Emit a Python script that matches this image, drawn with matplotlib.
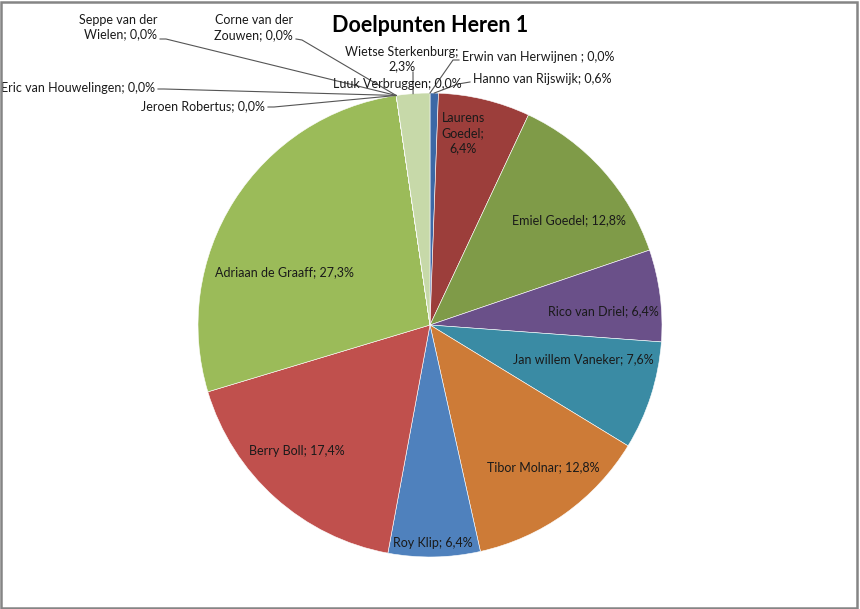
import numpy as np
import matplotlib.pyplot as plt
from matplotlib.patches import Rectangle

# data in clockwise order from 12 o'clock (goals per player)
players = ["Erwin van Herwijnen ", "Hanno van Rijswijk", "Laurens Goedel", "Emiel Goedel",
           "Rico van Driel", "Jan willem Vaneker", "Tibor Molnar", "Roy Klip", "Berry Boll",
           "Adriaan de Graaff", "Jeroen Robertus", "Eric van Houwelingen",
           "Seppe van der Wielen", "Corne van der Zouwen", "Luuk Verbruggen",
           "Wietse Sterkenburg"]
goals = [0, 1, 11, 22, 11, 13, 22, 11, 30, 47, 0, 0, 0, 0, 0, 4]
colors = ["#4A7EBB", "#3C68A6", "#9C3E3B", "#7F9B48", "#6A5089", "#3A8BA4", "#CD7B37",
          "#4F81BD", "#C0504D", "#9BBB59", "#C0504D", "#4F81BD", "#8064A2", "#4BACC6",
          "#F79646", "#C7D9A9"]

title = "Doelpunten Heren 1"

# pie geometry in image pixels (from top-left)
W, H = 860, 609
CX, CY, R = 430, 325, 232

# label layout: text pos (px), ha, line breaks at n-th space, leader line start / elbow
inside = {
    "Laurens Goedel": (463, 133, [1, 2]),
    "Emiel Goedel": (569, 220, []),
    "Rico van Driel": (603, 311, []),
    "Jan willem Vaneker": (583, 359, []),
    "Tibor Molnar": (543, 467, []),
    "Roy Klip": (433, 543, []),
    "Berry Boll": (297, 451, []),
    "Adriaan de Graaff": (284, 272, []),
}
outside = {
    "Seppe van der Wielen": (157, 27, "right", [3], [(160, 39), (166, 39)]),
    "Corne van der Zouwen": (293, 28, "right", [3], [(296, 39), (302, 40)]),
    "Eric van Houwelingen": (155, 88, "right", [], [(158, 89), (164, 89)]),
    "Jeroen Robertus": (265, 106, "right", [], [(268, 107), (274, 107)]),
    "Luuk Verbruggen": (333, 84, "left", [], []),
    "Wietse Sterkenburg": (402, 59, "center", [2], [(413, 72)]),
    "Erwin van Herwijnen ": (462, 57, "left", [], [(459, 60), (453, 60)]),
    "Hanno van Rijswijk": (473, 79, "left", [], [(470, 82), (458, 84)]),
}

plt.rcParams['font.family'] = ['Lato', 'DejaVu Sans']


def px(x, y):
    # image pixel -> pie data coordinates
    return (x - CX) / R, (CY - y) / R


def wrap(text, breaks):
    parts = text.split(" ")
    out = parts[0]
    for i, p in enumerate(parts[1:], start=1):
        out += ("\n" if i in breaks else " ") + p
    return out


fig = plt.figure(figsize=(W / 100, H / 100), dpi=100)
fig.patch.set_facecolor("white")
ax = fig.add_axes([(CX - R) / W, (H - CY - R) / H, 2 * R / W, 2 * R / H])

wedges, _ = ax.pie(goals, colors=colors, startangle=90, counterclock=False, radius=1,
                   wedgeprops=dict(edgecolor="white", linewidth=0.4))
ax.set_xlim(-1, 1)
ax.set_ylim(-1, 1)
ax.set_aspect("equal")
ax.axis("off")
ax.set_clip_on(False)

total = sum(goals)
for name, g, w in zip(players, goals, wedges):
    pct = "{:.1f}%".format(100 * g / total).replace(".", ",")
    text = name + "; " + pct
    mid = np.deg2rad((w.theta1 + w.theta2) / 2)
    edge = (np.cos(mid), np.sin(mid))
    if name in inside:
        x, y, br = inside[name]
        ax.text(*px(x, y), wrap(text, br), ha="center", va="center", fontsize=9.0,
                color="#1a1a1a", linespacing=1.3, clip_on=False)
    else:
        x, y, ha, br, line = outside[name]
        ax.text(*px(x, y), wrap(text, br), ha=ha, va="center", fontsize=9.0,
                color="#1a1a1a", linespacing=1.3, clip_on=False)
        if line:
            pts = [px(*p) for p in line] + [edge]
            ax.plot([p[0] for p in pts], [p[1] for p in pts], color="#555555",
                    linewidth=0.8, clip_on=False)

fig.text(430 / W, 1 - 25 / H, title, ha="center", va="center", fontsize=15.5,
         fontweight="bold", color="black")

fig.patches.append(Rectangle((0.001, 0.002), 0.996, 0.995, transform=fig.transFigure,
                             fill=False, edgecolor="#858585", linewidth=1.8))

fig.savefig("out.png", dpi=100)
